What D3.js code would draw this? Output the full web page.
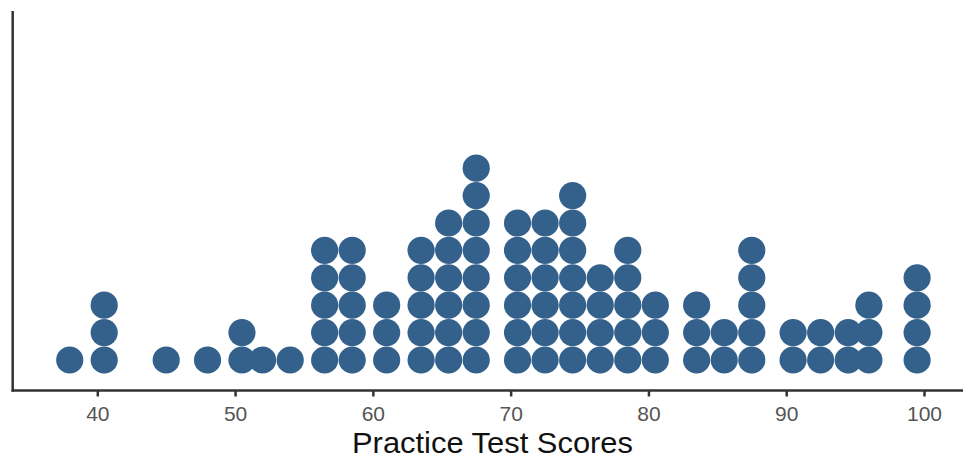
<!DOCTYPE html>
<html>
<head>
<meta charset="utf-8">
<script src="https://cdn.jsdelivr.net/npm/d3@7"></script>
<style>
  html, body { margin: 0; padding: 0; background: #fff; }
  svg { display: block; }
</style>
</head>
<body>
<svg id="chart" width="963" height="459"></svg>
<script>
// Data: score bins (dot centers) and number of dots stacked at each
const scores = [38, 40.5, 45, 48, 50.5, 52, 54, 56.5, 58.5, 61, 63.5, 65.5, 67.5, 70.5, 72.5, 74.5, 76.5, 78.5, 80.5, 83.5, 85.5, 87.5, 90.5, 92.5, 94.5, 96, 99.5];
const counts = [1, 3, 1, 1, 2, 1, 1, 5, 5, 3, 5, 6, 8, 6, 6, 7, 4, 5, 3, 3, 2, 5, 2, 2, 2, 3, 4];
const tickValues = [40, 50, 60, 70, 80, 90, 100];
const xTitle = "Practice Test Scores";

const svg = d3.select("#chart");
const x = d3.scaleLinear().domain([40, 100]).range([97.3, 924]);
const y = d3.scaleLinear().domain([0, 1]).range([360, 332.6]);
const r = 13.6;
const color = "#34618b";

const dots = [];
scores.forEach((s, i) => {
  for (let k = 0; k < counts[i]; k++) dots.push({ s, k });
});

svg.append("g").selectAll("circle")
  .data(dots)
  .enter().append("circle")
  .attr("cx", d => x(d.s))
  .attr("cy", d => y(d.k))
  .attr("r", r)
  .attr("fill", color);

// x axis
const axisY = 390.5;
const xAxis = svg.append("g")
  .attr("transform", `translate(0,${axisY})`)
  .call(d3.axisBottom(x).tickValues(tickValues).tickSize(6).tickPadding(10).tickFormat(d3.format("d")));
xAxis.select(".domain").remove();
xAxis.append("line")
  .attr("x1", 11.5).attr("x2", 963)
  .attr("y1", 0).attr("y2", 0)
  .attr("stroke", "#333").attr("stroke-width", 2.5);
xAxis.selectAll(".tick line").attr("stroke", "#333").attr("stroke-width", 2.5);
xAxis.selectAll(".tick text")
  .attr("fill", "#555")
  .attr("font-family", "Liberation Sans, Arial, sans-serif")
  .attr("font-size", 21)
  .attr("dy", "0.71em");

// y axis line
svg.append("line")
  .attr("x1", 12.7).attr("x2", 12.7)
  .attr("y1", 11).attr("y2", axisY + 1.2)
  .attr("stroke", "#333").attr("stroke-width", 2.5);

// x title
svg.append("text")
  .attr("x", (352 + 633) / 2)
  .attr("y", 453)
  .attr("text-anchor", "middle")
  .attr("font-family", "Liberation Sans, Arial, sans-serif")
  .attr("font-size", 30)
  .attr("textLength", 281)
  .attr("lengthAdjust", "spacingAndGlyphs")
  .attr("fill", "#111")
  .text(xTitle);
</script>
</body>
</html>
